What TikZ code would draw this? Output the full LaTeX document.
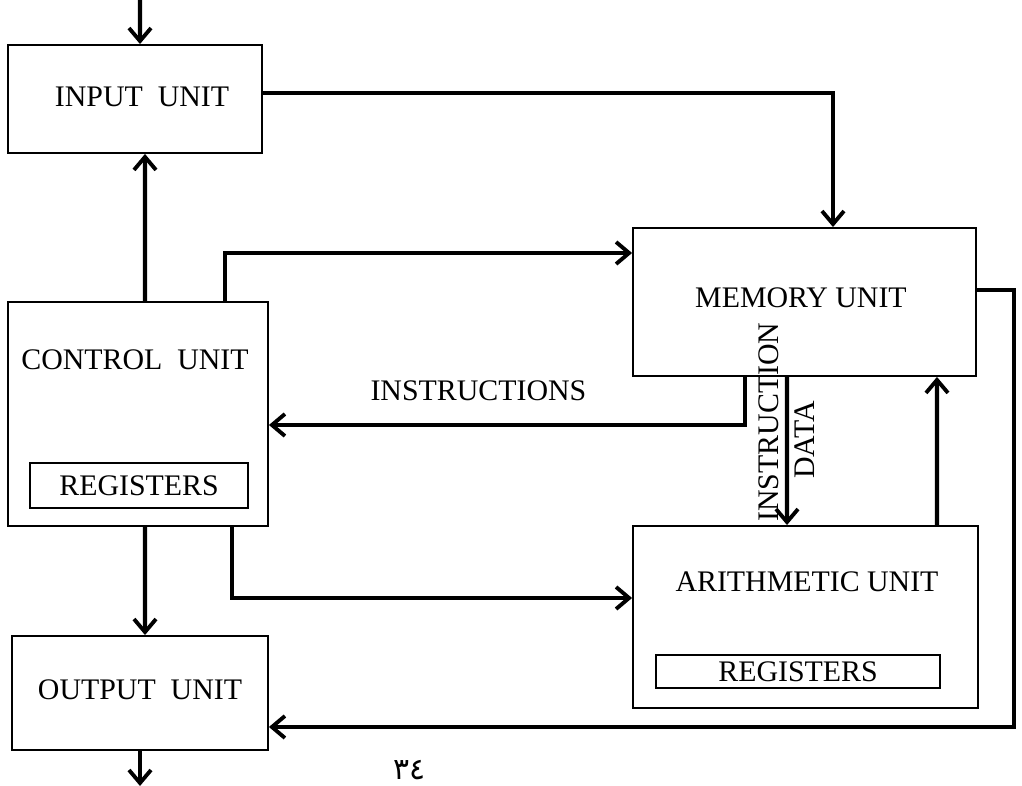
\documentclass[tikz,border=0pt]{standalone}
\usepackage{fontspec}
\setmainfont{Liberation Serif}
\newfontfamily\arabicfont[Script=Arabic]{DejaVu Sans}
\usetikzlibrary{arrows.meta}

\begin{document}
\begin{tikzpicture}[x=0.02cm, y=-0.02cm,
    unit/.style={draw, line width=1.1pt, rectangle, inner sep=0pt},
    txt/.style={inner sep=0pt, font=\fontsize{17}{19}\selectfont},
    arr/.style={line width=2.4pt, -{Straight Barb[length=2.6mm, width=4.4mm, line width=2.2pt]}}]
\useasboundingbox (0,0) rectangle (1022,786);
% boxes
\node[unit, minimum width=5.08cm, minimum height=2.16cm] (in) at (135,99) {};
\node[unit, minimum width=5.2cm, minimum height=4.48cm] (ctl) at (138,414) {};
\node[unit, minimum width=5.12cm, minimum height=2.28cm] (out) at (140,693) {};
\node[unit, minimum width=6.86cm, minimum height=2.96cm] (mem) at (804.5,302) {};
\node[unit, minimum width=6.9cm, minimum height=3.64cm] (alu) at (805.5,617) {};
\node[unit, minimum width=4.36cm, minimum height=0.9cm] (creg) at (139,485.5) {};
\node[unit, minimum width=5.68cm, minimum height=0.66cm] (areg) at (798,671.5) {};
% texts
\node[txt] (intext) at (142,97) {INPUT\ \ UNIT};
\node[txt] (ctltext) at (135,360) {CONTROL\ \ UNIT};
\node[txt] (outtext) at (140,690) {OUTPUT\ \ UNIT};
\node[txt] (memtext) at (801,298) {MEMORY UNIT};
\node[txt] (alutext) at (807,582) {ARITHMETIC UNIT};
\node[txt] (cregtext) at (creg) {REGISTERS};
\node[txt] (aregtext) at (areg) {REGISTERS};
\node[txt, rotate=90] (instr) at (769,422) {INSTRUCTION};
\node[txt, rotate=90] (data) at (805,440) {DATA};
\node[txt] (pg) at (410,770) {\arabicfont ٣٤};
% free ends
\coordinate (src) at (140,0);
\coordinate (sink) at (140,786);
% connectors
\draw[arr] (src) -- ([xshift=0.1cm]in.north);
\draw[arr] (out.south) -- (sink);
\draw[arr] ([xshift=0.14cm]ctl.north) -- ([xshift=0.2cm]in.south);
\draw[arr] ([yshift=0.12cm]in.east) -| ([xshift=0.57cm]mem.north);
\draw[arr] ([xshift=1.74cm]ctl.north) |- ([yshift=0.98cm]mem.west);
\draw[arr] ([xshift=-1.19cm]mem.south) |- ([yshift=-0.22cm]ctl.east)
    node[txt, pos=0.78, above=0.45cm] (instrs) {INSTRUCTIONS};
\draw[arr] ([xshift=-0.35cm]mem.south) -- ([xshift=-0.37cm]alu.north);
\draw[arr] ([xshift=2.63cm]alu.north) -- ([xshift=2.65cm]mem.south);
\draw[arr] ([xshift=1.88cm]ctl.south) |- ([yshift=0.38cm]alu.west);
\draw[arr] ([xshift=0.14cm]ctl.south) -- ([xshift=0.1cm]out.north);
\draw[arr] ([yshift=0.24cm]mem.east) -- ++(37,0) |- ([yshift=-0.68cm]out.east);
\end{tikzpicture}
\end{document}
